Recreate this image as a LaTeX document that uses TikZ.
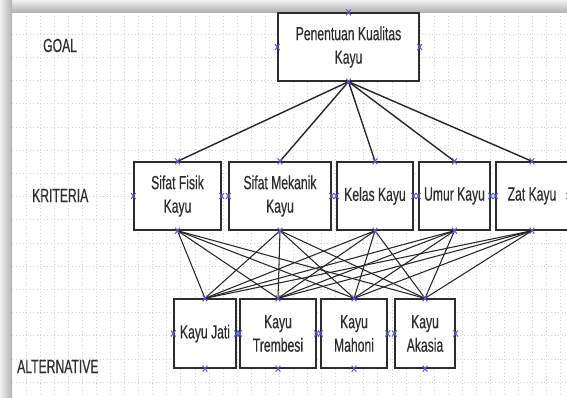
\documentclass[tikz,border=0pt]{standalone}
\usepackage{fontspec}
\setmainfont{Liberation Sans}[FakeStretch=0.64,FakeBold=0.4]
\definecolor{mk}{RGB}{90,90,235}
\definecolor{bd}{RGB}{45,45,45}
\tikzset{
  box/.style={draw=bd, line width=1.4pt, fill=white, align=center, inner sep=0pt,
    font={\fontsize{19}{23.5}\selectfont}, text=black!82},
  lbl/.style={anchor=base west, inner sep=0pt, font={\fontsize{19}{23}\selectfont}, text=black!82},
  gridline/.style={gray!35, line width=0.6pt, dash pattern=on 1pt off 2.5pt},
  conn/.style={black!85, line width=1.05pt},
  topconn/.style={black!85, line width=1.4pt},
  xmark/.style={mk, line width=1pt}
}
\newcommand{\xm}[1]{\draw[xmark] (#1) +(-2.3pt,-3pt) -- +(2.3pt,3pt) +(-2.3pt,3pt) -- +(2.3pt,-3pt);}
\begin{document}
\begin{tikzpicture}[x=1pt,y=-1pt]
\useasboundingbox (0,0) rectangle (567,397);
\fill[white] (0,0) rectangle (567,397);
% grid
\foreach \k in {0,...,38} { \draw[gridline] ({26+14.07*\k},12) -- ({26+14.07*\k},397); }
\foreach \k in {0,...,15} { \draw[gridline] (12,{34+23.2*\k}) -- (567,{34+23.2*\k}); }
% shadow
\shade[top color=gray!10, bottom color=gray!60] (0,0) rectangle (567,12);
\shade[left color=gray!10, right color=gray!60] (0,0) rectangle (12,397);
% labels
\node[lbl] (lgoal) at (43,52) {GOAL};
\node[lbl] (lkrit) at (32,202) {KRITERIA};
\node[lbl] (lalt) at (17,373) {ALTERNATIVE};
% boxes
\node[box, minimum width=141pt, minimum height=68pt] (G) at (348.5,47) {Penentuan Kualitas\\Kayu};
\node[box, minimum width=87pt, minimum height=68pt] (C1) at (177.5,196) {Sifat Fisik\\Kayu};
\node[box, minimum width=102pt, minimum height=68pt] (C2) at (280,196) {Sifat Mekanik\\Kayu};
\node[box, minimum width=76pt, minimum height=68pt] (C3) at (375,196) {Kelas Kayu};
\node[box, minimum width=71pt, minimum height=68pt] (C4) at (454.5,196) {Umur Kayu};
\node[box, minimum width=72pt, minimum height=68pt] (C5) at (532,196) {Zat Kayu};
\node[box, minimum width=62pt, minimum height=69pt] (A1) at (205,333.5) {Kayu Jati};
\node[box, minimum width=76pt, minimum height=69pt] (A2) at (278,333.5) {Kayu\\Trembesi};
\node[box, minimum width=66pt, minimum height=69pt] (A3) at (354,333.5) {Kayu\\Mahoni};
\node[box, minimum width=60pt, minimum height=69pt] (A4) at (425,333.5) {Kayu\\Akasia};
% connectors
\foreach \c in {C1,C2,C3,C4,C5} { \draw[topconn] (G.south) -- (\c.north); }
\foreach \c in {C1,C2,C3,C4,C5} {
  \foreach \a in {A1,A2,A3,A4} { \draw[conn] (\c.south) -- (\a.north); }
}
% markers
\foreach \n in {G,C1,C2,C3,C4,C5,A1,A2,A3,A4} {
  \xm{\n.north} \xm{\n.south} \xm{\n.west} \xm{\n.east}
}
\end{tikzpicture}
\end{document}
